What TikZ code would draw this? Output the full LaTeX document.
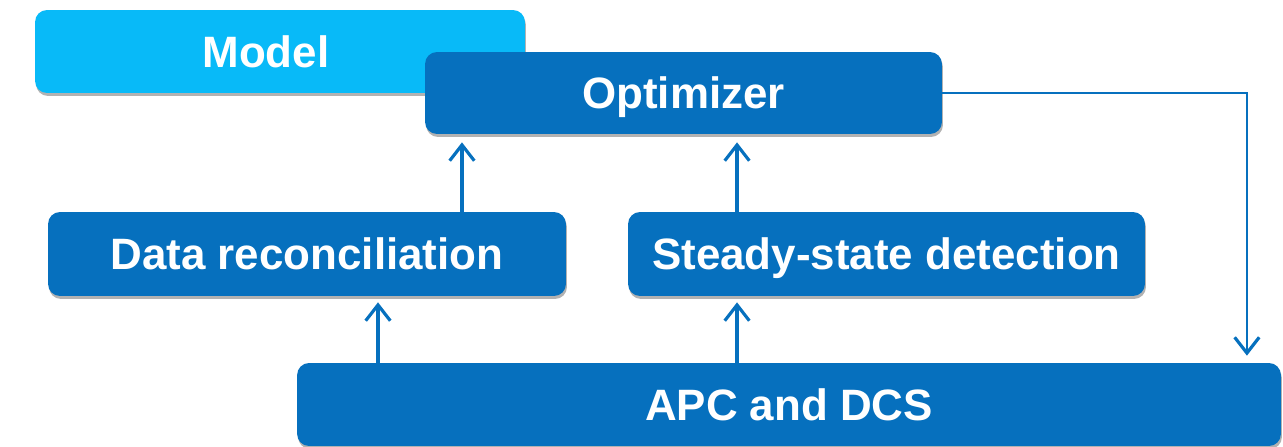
\documentclass[tikz,border=0pt]{standalone}
\usepackage{fontspec}
\setmainfont{Liberation Sans}
\usetikzlibrary{arrows.meta,shadows}
\definecolor{boxblue}{RGB}{6,112,190}
\definecolor{modelcyan}{RGB}{8,186,248}

\begin{document}
\begin{tikzpicture}[x=0.02cm,y=-0.02cm]
		\useasboundingbox (0,0) rectangle (1283,446);

		\begin{scope}[every node/.style={rectangle,rounded corners=0.24cm,fill=boxblue,
					  text=white,font=\fontsize{25}{29}\selectfont\bfseries,
					  text height=18pt,text depth=0pt,
					  minimum height=1.66cm,inner sep=0pt,
					  drop shadow={shadow xshift=0.02cm,shadow yshift=-0.06cm,opacity=0.3,fill=black}}]
			\node[fill=modelcyan,minimum width=9.8cm] (model) at (280,51.5) {\hspace*{-0.56cm}Model};
			\node[minimum width=10.34cm,minimum height=1.64cm] (opt) at (683.5,93) {Optimizer};

			\node[minimum width=10.36cm,minimum height=1.68cm] (dr) at (307,254) {Data reconciliation};
			\node[minimum width=10.34cm,minimum height=1.68cm] (ssd) at (886.5,254) {Steady-state detection};

			\node[minimum width=19.68cm] (apc) at (789,404.5) {APC and DCS};
		\end{scope}

		\begin{scope}[>={Straight Barb[length=9pt,width=14pt,line width=1.8pt]},
					  line width=1.9pt,draw=boxblue]
			\coordinate (a1) at ([xshift=3.1cm]dr.north);
			\coordinate (a2) at ([xshift=-2.99cm]ssd.north);
			\coordinate (a3) at ([xshift=1.42cm]dr.south);
			\coordinate (a4) at ([xshift=-2.99cm]ssd.south);
			\coordinate (a5) at ([xshift=9.16cm]apc.north);

			\draw [->,boxblue,shorten >=0.16cm] (a1) -- (a1 |- opt.south);
			\draw [->,boxblue,shorten >=0.16cm] (a2) -- (a2 |- opt.south);

			\draw [->,boxblue,shorten >=0.12cm] (a3 |- apc.north) -- (a3);
			\draw [->,boxblue,shorten >=0.12cm] (a4 |- apc.north) -- (a4);

			\draw [->,boxblue,line width=1.5pt,shorten >=0.14cm] (opt.east) -| (a5);
		\end{scope}
\end{tikzpicture}
\end{document}
